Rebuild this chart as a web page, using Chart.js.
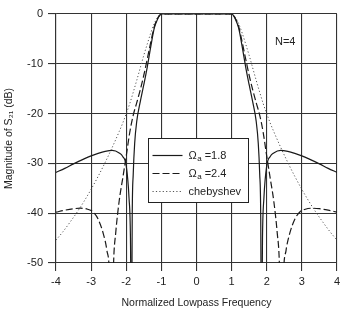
<!DOCTYPE html>
<html>
<head>
<meta charset="utf-8">
<script src="https://cdn.jsdelivr.net/npm/chart.js@4.4.1/dist/chart.umd.min.js"></script>
<style>
html,body{margin:0;padding:0;background:#fff;}
canvas{display:block;}
</style>
</head>
<body>
<canvas id="c" width="344" height="311"></canvas>
<script>
// ---- data ----
const xTicks = [-4, -3, -2, -1, 0, 1, 2, 3, 4];
const yTicks = [0, -10, -20, -30, -40, -50];

// Omega_a = 1.8 (solid)
const freqA = [-4, -3.75, -3.5, -3.2, -3.0, -2.8, -2.6, -2.4, -2.2, -2.1, -2.0, -1.92, -1.88, -1.85, -1.83, -1.8, -1.76, -1.7, -1.6, -1.5, -1.4, -1.3, -1.2, -1.1, -1.05, -1.0, -0.5, 0, 0.5, 1.0, 1.05, 1.1, 1.2, 1.3, 1.4, 1.5, 1.6, 1.7, 1.76, 1.8, 1.83, 1.85, 1.88, 1.92, 2.0, 2.1, 2.2, 2.4, 2.6, 2.8, 3.0, 3.2, 3.5, 3.75, 4];
const magA  = [-31.8, -31.0, -30.1, -29.1, -28.5, -28.0, -27.6, -27.4, -27.9, -28.6, -30.5, -37, -45, -70, -41, -32, -26, -21.5, -17.6, -14.2, -10.6, -6.5, -2.8, -0.9, -0.3, 0, 0, 0, 0, 0, -0.3, -0.9, -2.8, -6.5, -10.6, -14.2, -17.6, -21.5, -26, -32, -41, -70, -45, -37, -30.5, -28.6, -27.9, -27.4, -27.6, -28.0, -28.5, -29.1, -30.1, -31.0, -31.8];

// Omega_a = 2.4 (dashed)
const freqB = [-4, -3.75, -3.5, -3.3, -3.1, -2.95, -2.8, -2.65, -2.55, -2.48, -2.42, -2.36, -2.3, -2.2, -2.1, -2.0, -1.9, -1.8, -1.7, -1.6, -1.5, -1.4, -1.3, -1.2, -1.1, -1.05, -1.0, -0.5, 0, 0.5, 1.0, 1.05, 1.1, 1.2, 1.3, 1.4, 1.5, 1.6, 1.7, 1.8, 1.9, 2.0, 2.1, 2.2, 2.3, 2.36, 2.42, 2.48, 2.55, 2.65, 2.8, 2.95, 3.1, 3.3, 3.5, 3.75, 4];
const magB  = [-39.8, -39.4, -39.1, -39.0, -39.2, -39.7, -41.2, -44.2, -47.5, -52, -70, -50, -44, -37.5, -33, -28.5, -23.8, -20.3, -17.8, -15.2, -12.3, -9, -5.6, -2.5, -0.8, -0.3, 0, 0, 0, 0, 0, -0.3, -0.8, -2.5, -5.6, -9, -12.3, -15.2, -17.8, -20.3, -23.8, -28.5, -33, -37.5, -44, -50, -70, -52, -47.5, -44.2, -41.2, -39.7, -39.2, -39.0, -39.1, -39.4, -39.8];

// Chebyshev (dotted)
const freqC = [-4, -3.8, -3.6, -3.4, -3.2, -3.0, -2.8, -2.6, -2.4, -2.2, -2.1, -2.0, -1.9, -1.8, -1.7, -1.6, -1.5, -1.4, -1.3, -1.2, -1.1, -1.0, -0.5, 0, 0.5, 1.0, 1.1, 1.2, 1.3, 1.4, 1.5, 1.6, 1.7, 1.8, 1.9, 2.0, 2.1, 2.2, 2.4, 2.6, 2.8, 3.0, 3.2, 3.4, 3.6, 3.8, 4];
const magC  = [-45.4, -43.7, -41.8, -39.8, -37.6, -35.2, -32.6, -29.8, -26.8, -23.6, -21.9, -20.0, -18.0, -15.7, -13.3, -10.8, -8.3, -6.0, -3.8, -1.9, -0.6, 0, 0, 0, 0, 0, -0.6, -1.9, -3.8, -6.0, -8.3, -10.8, -13.3, -15.7, -18.0, -20.0, -21.9, -23.6, -26.8, -29.8, -32.6, -35.2, -37.6, -39.8, -41.8, -43.7, -45.4];

const seriesLabels = ['1.8', '2.4', 'chebyshev'];
const annotationText = 'N=4';
const xTitle = 'Normalized Lowpass Frequency';
const yTitle = 'Magnitude of S\u2082\u2081 (dB)';

const pts = (xs, ys) => xs.map((x, i) => ({x: x, y: ys[i]}));
const FONT = "'Liberation Sans', Arial, Helvetica, sans-serif";

const overlay = {
  id: 'overlay',
  afterDraw(chart) {
    const ctx = chart.ctx;
    const a = chart.chartArea;
    ctx.save();
    // N=4 label
    ctx.fillStyle = '#222';
    ctx.font = '11px ' + FONT;
    ctx.textBaseline = 'middle';
    ctx.textAlign = 'left';
    ctx.fillText(annotationText, a.left + 219, a.top + 28);

    // legend box
    const bx = a.left + 92.5, by = a.top + 124.5, bw = 100, bh = 64;
    ctx.fillStyle = '#fff';
    ctx.fillRect(bx, by, bw, bh);
    ctx.strokeStyle = '#222';
    ctx.lineWidth = 1;
    ctx.strokeRect(bx, by, bw, bh);
    const rowY = [by + 17, by + 35, by + 53];
    chart.data.datasets.forEach((ds, i) => {
      const y = rowY[i];
      ctx.save();
      ctx.strokeStyle = ds.borderColor;
      ctx.lineWidth = ds.borderWidth;
      ctx.setLineDash(ds.borderDash || []);
      ctx.beginPath();
      ctx.moveTo(bx + 4, y);
      ctx.lineTo(bx + 34, y);
      ctx.stroke();
      ctx.restore();
      ctx.fillStyle = '#222';
      let tx = bx + 40;
      if (i < 2) {
        ctx.font = '11px ' + FONT;
        ctx.fillText('\u03A9', tx, y);
        tx += ctx.measureText('\u03A9').width + 0.5;
        ctx.font = '8px ' + FONT;
        ctx.fillText('a', tx, y + 3);
        tx += ctx.measureText('a').width + 3;
        ctx.font = '11px ' + FONT;
        ctx.fillText('=' + ds.label, tx, y);
      } else {
        ctx.font = '11px ' + FONT;
        ctx.fillText(ds.label, tx, y);
      }
    });
    ctx.restore();
  }
};

new Chart(document.getElementById('c'), {
  type: 'line',
  data: {
    datasets: [
      {label: seriesLabels[0], data: pts(freqA, magA), borderColor: '#1a1a1a', borderWidth: 1.2, borderDash: [], pointRadius: 0, fill: false, cubicInterpolationMode: 'monotone'},
      {label: seriesLabels[1], data: pts(freqB, magB), borderColor: '#1a1a1a', borderWidth: 1.2, borderDash: [7, 3], pointRadius: 0, fill: false, cubicInterpolationMode: 'monotone'},
      {label: seriesLabels[2], data: pts(freqC, magC), borderColor: '#555', borderWidth: 1, borderDash: [1.2, 2.2], pointRadius: 0, fill: false, cubicInterpolationMode: 'monotone'}
    ]
  },
  options: {
    responsive: false,
    animation: false,
    devicePixelRatio: 1,
    layout: {padding: {top: 14, right: 6, left: 0, bottom: 0}},
    plugins: {legend: {display: false}, tooltip: {enabled: false}},
    scales: {
      x: {
        type: 'linear', min: -4, max: 4,
        afterBuildTicks: (s) => { s.ticks = xTicks.map(v => ({value: v})); },
        afterFit: (s) => { s.height = 48; },
        ticks: {color: '#222', font: {family: FONT, size: 11}, padding: 4, maxRotation: 0},
        grid: {color: '#333', lineWidth: 1.1, tickLength: 8, tickColor: '#333'},
        border: {color: '#333', width: 1.1},
        title: {display: true, text: xTitle, color: '#222', font: {family: FONT, size: 10.5}, padding: {top: 0, bottom: 2}}
      },
      y: {
        min: -50, max: 0,
        afterBuildTicks: (s) => { s.ticks = yTicks.map(v => ({value: v})); },
        afterFit: (s) => { s.width = 56; },
        ticks: {color: '#222', font: {family: FONT, size: 11}, padding: 5},
        grid: {color: '#333', lineWidth: 1.1, tickLength: 8, tickColor: '#333'},
        border: {color: '#333', width: 1.1},
        title: {display: true, text: yTitle, color: '#222', font: {family: FONT, size: 10.5}, padding: {top: 3, bottom: 0}}
      }
    }
  },
  plugins: [overlay]
});
</script>
</body>
</html>
